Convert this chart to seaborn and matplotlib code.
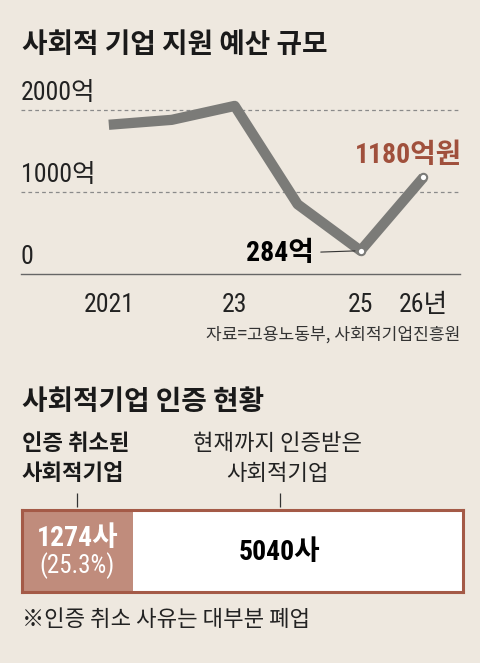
import matplotlib
matplotlib.use("Agg")
import matplotlib.pyplot as plt
from matplotlib import font_manager
import seaborn as sns

# budget for social enterprise support (억원)
years = [2021, 2022, 2023, 2024, 2025, 2026]
budget = [1820, 1880, 2050, 850, 284, 1180]
grid_values = [1000, 2000]
y_values = [0, 1000, 2000]
y_labels = ["0", "1000억", "2000억"]
tick_years = [2021, 2023, 2025, 2026]
tick_labels = ["2021", "23", "25", "26년"]

# certification status
cancelled_count = 1274
certified_count = 5040
cancelled_share = "25.3%"

BG = "#EEE8DF"
LINE = "#7B7B78"
RED = "#A0503C"
FILL = "#C08C7C"
EDGE = "#A45A47"
DARK = "#1A1A1A"

names = {f.name for f in font_manager.fontManager.ttflist}
narrow = "Liberation Sans"
for cand in ["Liberation Sans Narrow", "Roboto Condensed", "Archivo Narrow", "Barlow Condensed"]:
    if cand in names:
        narrow = cand
        break
KR = "Noto Sans CJK KR"
num_font = [narrow, KR]

sns.set_style("white")
plt.rcParams["font.family"] = [KR, "DejaVu Sans"]

W, H = 480, 663
fig = plt.figure(figsize=(W / 100, H / 100), dpi=100, facecolor=BG)


def fx(px):
    return px / W


def fy(py):
    return 1 - py / H


# ---- top: line chart ----
fig.text(fx(22), fy(45), "사회적 기업 지원 예산 규모", fontsize=20, fontweight="heavy",
         color=DARK, va="center", ha="left")

ax = fig.add_axes([fx(20.7), fy(274), (460 - 20.7) / W, (274 - 100) / H])
ax.set_facecolor("none")
for v in grid_values:
    ax.axhline(v, color="#8A8A8A", lw=0.9, ls=(0, (3, 2.5)), zorder=1)

sns.lineplot(x=years, y=budget, ax=ax, color=LINE, linewidth=7.4,
             solid_capstyle="butt", zorder=3)
sns.scatterplot(x=years[-2:], y=budget[-2:], ax=ax, s=28, color="white",
                edgecolor=LINE, linewidth=1.5, zorder=5)

ax.set_xlim(2019.6, 2026.58)
ax.set_ylim(0, 2122)
for side in ["top", "left", "right"]:
    ax.spines[side].set_visible(False)
ax.spines["bottom"].set_color("#666666")
ax.spines["bottom"].set_linewidth(1)
ax.set_yticks([])
ax.set_xticks(tick_years, tick_labels)
ax.tick_params(axis="x", length=8, width=1, color="#666666", pad=6,
               labelsize=18.5, labelcolor="#222222")
for lab in ax.get_xticklabels():
    lab.set_family(num_font)
ax.set_xlabel("")
ax.set_ylabel("")

for v, lab in zip(y_values, y_labels):
    ax.annotate(lab, (ax.get_xlim()[0], v), xytext=(0, 7), textcoords="offset points",
                ha="left", va="baseline", fontsize=18.5, family=num_font, color="#222222")

ax.annotate(f"{budget[4]}억", (years[4], budget[4]), xytext=(-34, -2),
            textcoords="offset points", ha="right", va="center", fontsize=20,
            fontweight="bold", family=num_font, color="black",
            arrowprops=dict(arrowstyle="-", color="#333333", lw=0.8,
                            shrinkA=3, shrinkB=4))
ax.annotate(f"{budget[5]}억원", (years[5], budget[5]), xytext=(27.6, 10.2),
            textcoords="offset points", ha="right", va="baseline", fontsize=20,
            fontweight="semibold", family=num_font, color=RED)

fig.text(fx(460), fy(335), "자료=고용노동부, 사회적기업진흥원", fontsize=12.3,
         color="#333333", ha="right", va="center")

# ---- bottom: certification bar ----
fig.text(fx(22), fy(402), "사회적기업 인증 현황", fontsize=20, fontweight="heavy",
         color=DARK, va="center", ha="left")
fig.text(fx(22), fy(443), "인증 취소된", fontsize=16, fontweight="bold",
         color=DARK, va="center", ha="left")
fig.text(fx(22), fy(474), "사회적기업", fontsize=16, fontweight="bold",
         color=DARK, va="center", ha="left")
fig.text(fx(277.5), fy(443), "현재까지 인증받은", fontsize=16,
         color="#222222", va="center", ha="center")
fig.text(fx(277.5), fy(474), "사회적기업", fontsize=16,
         color="#222222", va="center", ha="center")

axb = fig.add_axes([fx(21.5), fy(591.5), (462.5 - 21.5) / W, 82 / H])
sns.barplot(x=[certified_count], y=["전체"], color="white", width=1, saturation=1,
            linewidth=0, ax=axb)
sns.barplot(x=[cancelled_count], y=["전체"], color=FILL, width=1, saturation=1,
            linewidth=0, ax=axb)
axb.set_xlim(0, certified_count)
axb.set_ylim(0.5, -0.5)
axb.set_xticks([])
axb.set_yticks([])
axb.set_xlabel("")
axb.set_ylabel("")
for side in axb.spines.values():
    side.set_visible(True)
    side.set_color(EDGE)
    side.set_linewidth(2.2)

label_x = [cancelled_count / 2, 2950]
axb.vlines(label_x, 1.03, 1.2, transform=axb.get_xaxis_transform(),
           color="#333333", lw=0.9, clip_on=False)

axb.text(cancelled_count / 2, -0.15, f"{cancelled_count}사", fontsize=20,
         fontweight="bold", family=num_font, color="white", ha="center", va="center")
axb.text(cancelled_count / 2, 0.18, f"({cancelled_share})", fontsize=18,
         family=num_font, color="white", ha="center", va="center")
axb.text(label_x[1], 0.02, f"{certified_count}사", fontsize=20, fontweight="bold",
         family=num_font, color="black", ha="center", va="center")

fig.text(fx(22), fy(619), "※인증 취소 사유는 대부분 폐업", fontsize=16,
         color="#222222", va="center", ha="left")

fig.savefig("out.png", dpi=100, facecolor=BG)
